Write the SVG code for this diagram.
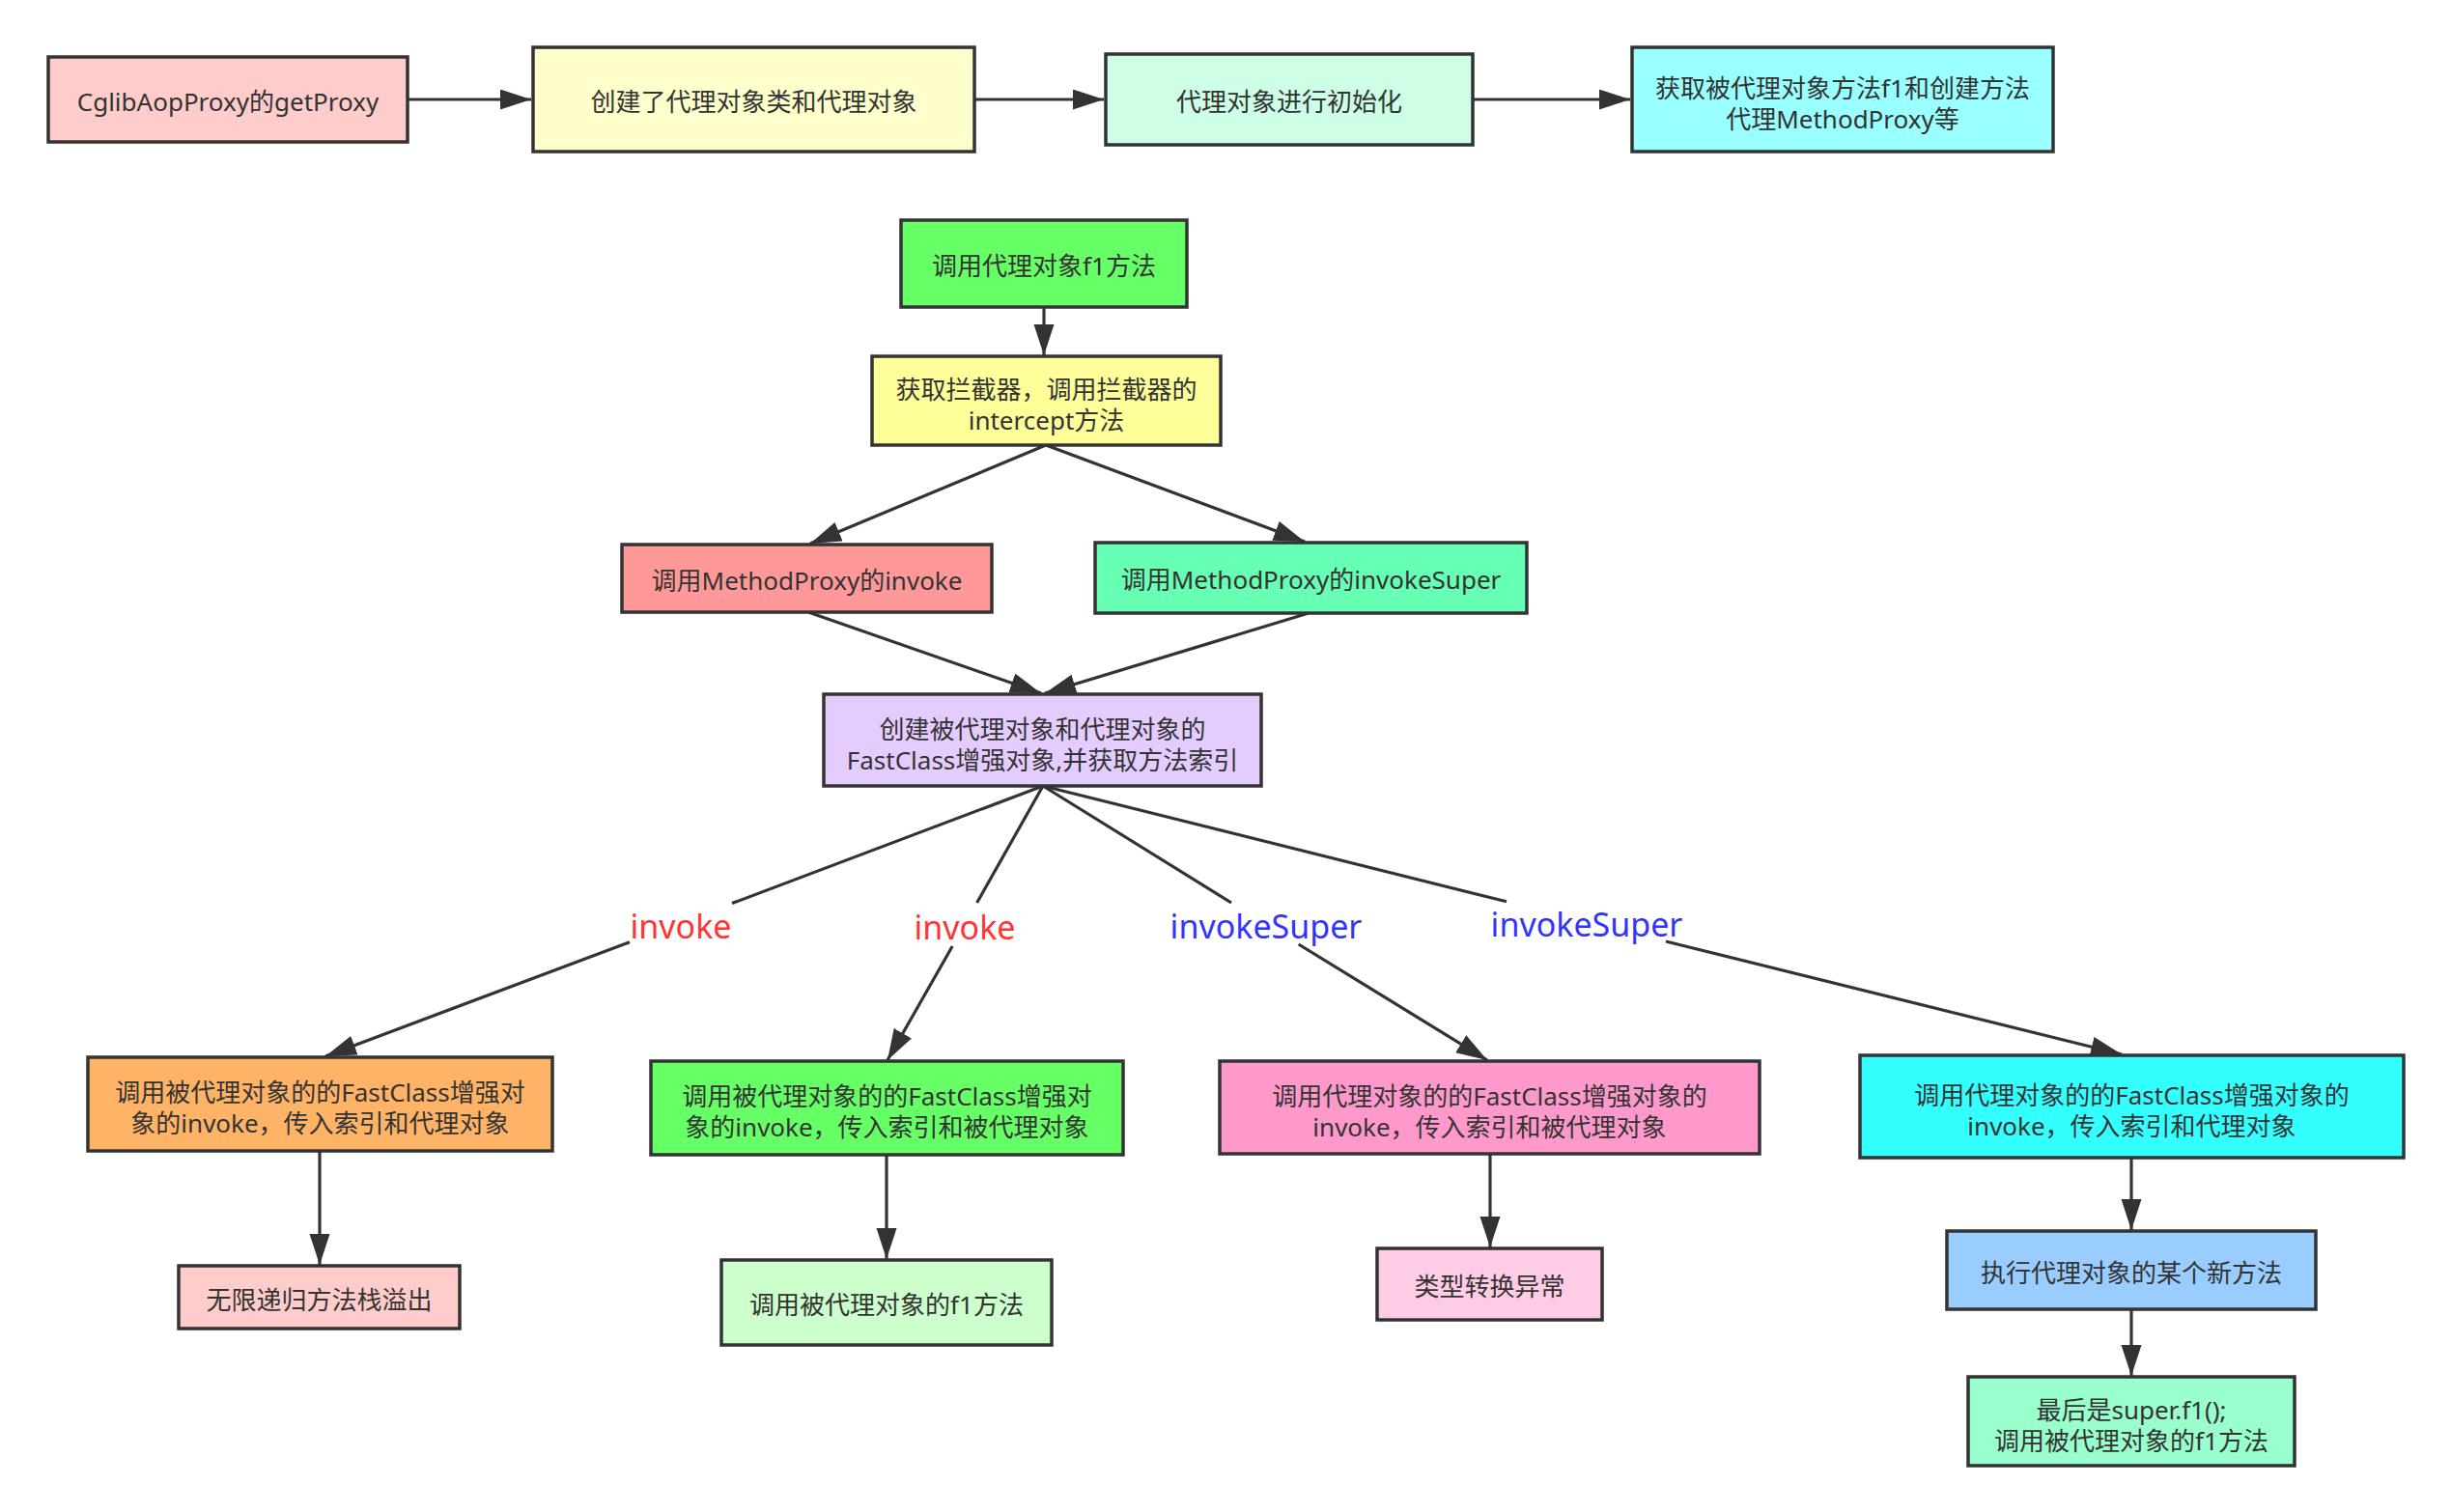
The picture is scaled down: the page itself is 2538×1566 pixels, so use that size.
<svg xmlns="http://www.w3.org/2000/svg" width="2538" height="1566" viewBox="0 0 2538 1566">
<defs>
<style>
.box{stroke:#333333;stroke-width:3.5}
.t{font-family:"Noto Sans","Noto Sans CJK SC",sans-serif;font-size:26px;fill:#333333;text-anchor:middle}
.lbl{font-family:"Noto Sans","Noto Sans CJK SC",sans-serif;font-size:34px;text-anchor:middle}
.edge{stroke:#333333;stroke-width:3.2;fill:none}
</style>
<marker id="ah" markerUnits="userSpaceOnUse" markerWidth="34" markerHeight="22" refX="32" refY="10.5" orient="auto">
<path d="M0,0 L32,10.5 L0,21 Z" fill="#333333"/>
</marker>
</defs>
<rect width="2538" height="1566" fill="#ffffff"/>
<g id="connectors">
<path class="edge" d="M422,103 L550,103" marker-end="url(#ah)"/>
<path class="edge" d="M1009,103 L1143,103" marker-end="url(#ah)"/>
<path class="edge" d="M1525,103 L1688,103" marker-end="url(#ah)"/>
<path class="edge" d="M1081,318 L1081,368" marker-end="url(#ah)"/>
<path class="edge" d="M1083,461 L839,563" marker-end="url(#ah)"/>
<path class="edge" d="M1083,461 L1351,561" marker-end="url(#ah)"/>
<path class="edge" d="M837,634 L1078,718" marker-end="url(#ah)"/>
<path class="edge" d="M1355,635 L1082,718" marker-end="url(#ah)"/>
<path class="edge" d="M1080,814 L758,935.6 M652,975.7 L337,1094" marker-end="url(#ah)"/>
<path class="edge" d="M1080,814 L1011.6,935 M986.2,980 L919,1098" marker-end="url(#ah)"/>
<path class="edge" d="M1080,814 L1275,935 M1344.7,978 L1540,1098" marker-end="url(#ah)"/>
<path class="edge" d="M1080,814 L1560,933.8 M1725,975 L2197,1092" marker-end="url(#ah)"/>
<path class="edge" d="M331,1192 L331,1310" marker-end="url(#ah)"/>
<path class="edge" d="M918,1196 L918,1304" marker-end="url(#ah)"/>
<path class="edge" d="M1543,1195 L1543,1292" marker-end="url(#ah)"/>
<path class="edge" d="M2207,1199 L2207,1274" marker-end="url(#ah)"/>
<path class="edge" d="M2207,1356 L2207,1425" marker-end="url(#ah)"/>
<text class="lbl" x="705" y="972" fill="#FF3333">invoke</text>
<text class="lbl" x="999" y="973" fill="#FF3333">invoke</text>
<text class="lbl" x="1311" y="972" fill="#3333FF">invokeSuper</text>
<text class="lbl" x="1643" y="970" fill="#3333FF">invokeSuper</text>
</g>
<g id="n1"><rect class="box" x="50" y="59" width="372" height="88" fill="#FFCCCC"/><text class="t" x="236" y="115">CglibAopProxy的getProxy</text></g>
<g id="n2"><rect class="box" x="552" y="49" width="457" height="108" fill="#FFFFCC"/><text class="t" x="780.5" y="115">创建了代理对象类和代理对象</text></g>
<g id="n3"><rect class="box" x="1145" y="56" width="380" height="94" fill="#CCFFE6"/><text class="t" x="1335" y="115">代理对象进行初始化</text></g>
<g id="n4"><rect class="box" x="1690" y="49" width="436" height="108" fill="#99FFFF"/><text class="t" x="1908" y="101">获取被代理对象方法f1和创建方法</text><text class="t" x="1908" y="133">代理MethodProxy等</text></g>
<g id="n5"><rect class="box" x="933" y="228" width="296" height="90" fill="#66FF66"/><text class="t" x="1081" y="285">调用代理对象f1方法</text></g>
<g id="n6"><rect class="box" x="903" y="369" width="361" height="92" fill="#FFFF99"/><text class="t" x="1083.5" y="413">获取拦截器，调用拦截器的</text><text class="t" x="1083.5" y="445">intercept方法</text></g>
<g id="n7"><rect class="box" x="644" y="564" width="383" height="70" fill="#FF9999"/><text class="t" x="835.5" y="611">调用MethodProxy的invoke</text></g>
<g id="n8"><rect class="box" x="1134" y="562" width="447" height="73" fill="#66FFB3"/><text class="t" x="1357.5" y="610">调用MethodProxy的invokeSuper</text></g>
<g id="n9"><rect class="box" x="853" y="719" width="453" height="95" fill="#E5CCFF"/><text class="t" x="1079.5" y="765">创建被代理对象和代理对象的</text><text class="t" x="1079.5" y="797">FastClass增强对象,并获取方法索引</text></g>
<g id="n10"><rect class="box" x="91" y="1095" width="481" height="97" fill="#FFB366"/><text class="t" x="331.5" y="1141">调用被代理对象的的FastClass增强对</text><text class="t" x="331.5" y="1173">象的invoke，传入索引和代理对象</text></g>
<g id="n11"><rect class="box" x="674" y="1099" width="489" height="97" fill="#66FF66"/><text class="t" x="918.5" y="1145">调用被代理对象的的FastClass增强对</text><text class="t" x="918.5" y="1177">象的invoke，传入索引和被代理对象</text></g>
<g id="n12"><rect class="box" x="1263" y="1099" width="559" height="96" fill="#FF99CC"/><text class="t" x="1542.5" y="1145">调用代理对象的的FastClass增强对象的</text><text class="t" x="1542.5" y="1177">invoke，传入索引和被代理对象</text></g>
<g id="n13"><rect class="box" x="1926" y="1093" width="563" height="106" fill="#33FFFF"/><text class="t" x="2207.5" y="1144">调用代理对象的的FastClass增强对象的</text><text class="t" x="2207.5" y="1176">invoke，传入索引和代理对象</text></g>
<g id="n14"><rect class="box" x="185" y="1311" width="291" height="65" fill="#FFCCCC"/><text class="t" x="330.5" y="1356">无限递归方法栈溢出</text></g>
<g id="n15"><rect class="box" x="747" y="1305" width="342" height="88" fill="#CCFFCC"/><text class="t" x="918" y="1361">调用被代理对象的f1方法</text></g>
<g id="n16"><rect class="box" x="1426" y="1293" width="233" height="74" fill="#FFCCE6"/><text class="t" x="1542.5" y="1342">类型转换异常</text></g>
<g id="n17"><rect class="box" x="2016" y="1275" width="382" height="81" fill="#99CCFF"/><text class="t" x="2207" y="1328">执行代理对象的某个新方法</text></g>
<g id="n18"><rect class="box" x="2038" y="1426" width="338" height="92" fill="#99FFCC"/><text class="t" x="2207" y="1470">最后是super.f1();</text><text class="t" x="2207" y="1502">调用被代理对象的f1方法</text></g>
</svg>
